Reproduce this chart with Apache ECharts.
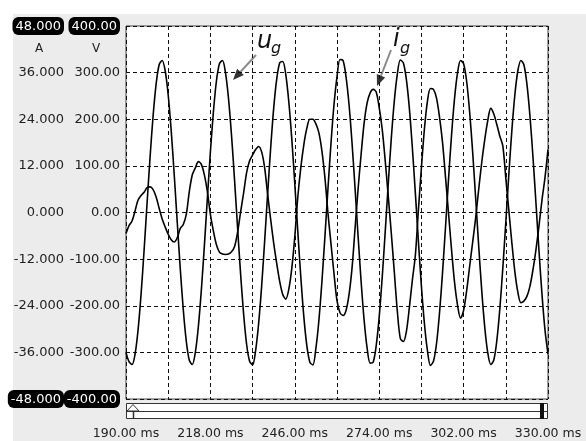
<!DOCTYPE html>
<html>
<head>
<meta charset="utf-8">
<script src="https://cdn.jsdelivr.net/npm/echarts@6/dist/echarts.min.js"></script>
<style>
    html, body { margin: 0; padding: 0; background: #fff; }
    #scope { width: 586px; height: 441px; }
</style>
</head>
<body>
<div id="scope"></div>
<script>
// 采样间隔 (ms), 时间轴从 190 ms 开始
const SAMPLE_MS = 1;

const timeTickLabels = ['190.00 ms', '218.00 ms', '246.00 ms', '274.00 ms', '302.00 ms', '330.00 ms'];
const currentTickLabels = ['-48.000', '-36.000', '-24.000', '-12.000', '0.000', '12.000', '24.000', '36.000', '48.000'];
const voltageTickLabels = ['-400.00', '-300.00', '-200.00', '-100.00', '0.00', '100.00', '200.00', '300.00', '400.00'];

// 电网电压 u_g (V)
const voltage = [
    -300, -320, -326, -304, -252, -175, -81, 21, 120, 208,
    276, 317, 326, 304, 252, 175, 81, -21, -120, -208,
    -276, -317, -326, -300, -245, -166, -71, 31, 130, 216,
    282, 319, 326, 300, 245, 166, 71, -31, -130, -216,
    -282, -319, -327, -296, -238, -158, -61, 41, 139, 224,
    286, 321, 324, 296, 238, 158, 61, -41, -139, -224,
    -286, -321, -327, -291, -231, -148, -51, 51, 148, 231,
    291, 328, 326, 291, 231, 148, 51, -51, -148, -231,
    -291, -323, -321, -286, -224, -139, -41, 61, 158, 238,
    296, 327, 321, 286, 224, 139, 41, -61, -158, -238,
    -296, -328, -319, -282, -216, -130, -31, 71, 166, 245,
    300, 326, 319, 282, 216, 130, 31, -71, -166, -245,
    -300, -326, -317, -276, -208, -120, -21, 81, 175, 252,
    304, 326, 317, 276, 208, 120, 21, -81, -175, -252,
    -304
];

// 并网电流 i_g (A)
const current = [
    -5.4, -3.4, -2.2, 0.4, 3.2, 4.4, 5.2, 6.4, 6.6, 5.9,
    4.0, 1.1, -1.7, -3.7, -5.6, -7.0, -7.6, -6.5, -4.1, -3.1,
    -0.5, 5.4, 9.7, 11.5, 13.1, 12.4, 9.7, 5.4, -0.5, -4.8,
    -8.3, -10.2, -10.7, -10.8, -10.7, -10.1, -8.8, -5.2, 0.0, 4.9,
    10.2, 13.3, 14.8, 16.2, 17.0, 15.6, 11.5, 4.6, -1.8, -7.9,
    -13.1, -17.8, -21.1, -22.3, -19.8, -14.4, -6.2, 4.0, 11.6, 17.5,
    21.7, 24.0, 24.0, 22.8, 20.5, 15.8, 8.9, -0.2, -8.0, -15.7,
    -22.7, -25.8, -26.5, -25.2, -21.1, -14.2, -4.0, 6.1, 15.0, 23.0,
    28.2, 30.8, 31.7, 31.0, 27.0, 21.4, 13.3, 4.2, -5.2, -15.2,
    -25.3, -32.4, -33.2, -30.7, -24.5, -17.4, -11.0, 0.6, 11.5, 21.5,
    28.6, 31.9, 31.7, 29.5, 24.6, 18.1, 9.1, -0.2, -9.6, -18.0,
    -23.9, -27.2, -25.2, -20.2, -13.9, -7.7, -1.4, 5.9, 12.8, 18.7,
    23.6, 26.8, 25.4, 22.7, 19.7, 17.2, 8.9, 0.6, -7.7, -15.2,
    -20.5, -23.2, -22.8, -21.6, -19.0, -14.8, -9.6, -3.5, 3.2, 9.0,
    16.2
];

const FONT = '"DejaVu Sans", Verdana, sans-serif';

document.addEventListener('DOMContentLoaded', function () {
    const chart = echarts.init(document.getElementById('scope'));

    function tickFormatter(labels, min, step) {
        return function (v) {
            const i = Math.round((v - min) / step);
            const s = labels[i];
            if (s === undefined) return '';
            return (i === 0 || i === labels.length - 1) ? '{box|' + s + '}' : s;
        };
    }

    const boxRich = {
        box: {
            backgroundColor: '#000',
            color: '#fff',
            borderRadius: 6,
            padding: [3, 3, 2, 3],
            fontSize: 13,
            fontFamily: FONT
        }
    };

    // 注释箭头
    function arrow(tail, tip) {
        const dx = tip[0] - tail[0], dy = tip[1] - tail[1];
        const len = Math.sqrt(dx * dx + dy * dy);
        const ux = dx / len, uy = dy / len;
        const bx = tip[0] - 11 * ux, by = tip[1] - 11 * uy;
        return [
            { type: 'line', shape: { x1: tail[0], y1: tail[1], x2: bx, y2: by },
              style: { stroke: '#8a8a8a', lineWidth: 2 }, silent: true },
            { type: 'polygon', shape: { points: [tip, [bx + 4.5 * uy, by - 4.5 * ux], [bx - 4.5 * uy, by + 4.5 * ux]] },
              style: { fill: '#333' }, silent: true }
        ];
    }

    function label(text, x, y, size, italic) {
        return {
            type: 'text', x: x, y: y, silent: true,
            style: {
                text: text, fill: '#111',
                font: (italic ? 'italic ' : '') + size + 'px ' + FONT,
                align: 'left', textAlign: 'left',
                verticalAlign: 'middle', textVerticalAlign: 'middle'
            }
        };
    }

    const option = {
        animation: false,
        backgroundColor: '#fff',
        grid: {
            left: 126, right: 38, top: 26, bottom: 42,
            show: true, backgroundColor: '#fff', borderColor: '#444', borderWidth: 1
        },
        xAxis: {
            type: 'value',
            min: 0, max: 140, interval: 14,
            axisLine: { show: false },
            axisTick: { show: false },
            axisLabel: {
                margin: 28, color: '#222', fontSize: 12.5, fontFamily: FONT,
                showMinLabel: true, showMaxLabel: true,
                formatter: function (v) {
                    const k = Math.round(v / 28);
                    return Math.abs(v - k * 28) < 1e-6 ? timeTickLabels[k] : '';
                }
            },
            splitLine: { show: true, lineStyle: { color: '#111', width: 1, type: [4, 3] } }
        },
        yAxis: [
            {
                type: 'value', position: 'left', offset: 56,
                min: -48, max: 48, interval: 12,
                axisLine: { show: false }, axisTick: { show: false },
                splitLine: { show: false },
                axisLabel: {
                    margin: 6, color: '#222', fontSize: 13, fontFamily: FONT,
                    formatter: tickFormatter(currentTickLabels, -48, 12),
                    rich: boxRich
                }
            },
            {
                type: 'value', position: 'left', offset: 0,
                min: -400, max: 400, interval: 100,
                axisLine: { show: false }, axisTick: { show: false },
                splitLine: { show: true, lineStyle: { color: '#111', width: 1, type: [4, 3] } },
                axisLabel: {
                    margin: 6, color: '#222', fontSize: 13, fontFamily: FONT,
                    formatter: tickFormatter(voltageTickLabels, -400, 100),
                    rich: boxRich
                }
            }
        ],
        series: [
            {
                name: 'i_g', type: 'line', yAxisIndex: 0,
                data: current.map((v, i) => [i * SAMPLE_MS, v]),
                symbol: 'none', smooth: 0.3,
                lineStyle: { color: '#000', width: 1.6 }
            },
            {
                name: 'u_g', type: 'line', yAxisIndex: 1,
                data: voltage.map((v, i) => [i * SAMPLE_MS, v]),
                symbol: 'none', smooth: 0.3,
                lineStyle: { color: '#000', width: 1.6 }
            }
        ],
        graphic: [
            { type: 'rect', shape: { x: 13, y: 14, width: 573, height: 427 },
              style: { fill: '#ECECEC' }, z: -10, silent: true },
            // 单位
            { type: 'text', x: 39, y: 49, silent: true,
              style: { text: 'A', fill: '#222', font: '12px ' + FONT, align: 'center', textAlign: 'center', verticalAlign: 'middle', textVerticalAlign: 'middle' } },
            { type: 'text', x: 96, y: 49, silent: true,
              style: { text: 'V', fill: '#222', font: '12px ' + FONT, align: 'center', textAlign: 'center', verticalAlign: 'middle', textVerticalAlign: 'middle' } },
            // 滚动条
            { type: 'rect', shape: { x: 126.5, y: 403.5, width: 421, height: 15 },
              style: { fill: '#fff', stroke: '#333', lineWidth: 1 }, silent: true },
            { type: 'line', shape: { x1: 126.5, y1: 411.5, x2: 547.5, y2: 411.5 },
              style: { stroke: '#333', lineWidth: 1 }, silent: true },
            { type: 'polygon', shape: { points: [[127, 411], [133, 404.5], [139, 411]] },
              style: { fill: '#fff', stroke: '#333', lineWidth: 1 }, silent: true },
            { type: 'line', shape: { x1: 133.5, y1: 411.5, x2: 133.5, y2: 418.5 },
              style: { stroke: '#333', lineWidth: 1.5 }, silent: true },
            { type: 'rect', shape: { x: 540, y: 403, width: 4, height: 16 },
              style: { fill: '#111' }, silent: true },
            // 注释
            label('u', 257, 42, 24, true),
            label('g', 271, 49, 16, true),
            label('i', 393, 40, 24, true),
            label('g', 400, 49, 16, true)
        ].concat(arrow([256, 55], [233, 80]), arrow([391, 50], [377, 86]))
    };

    chart.setOption(option);
});
</script>
</body>
</html>
